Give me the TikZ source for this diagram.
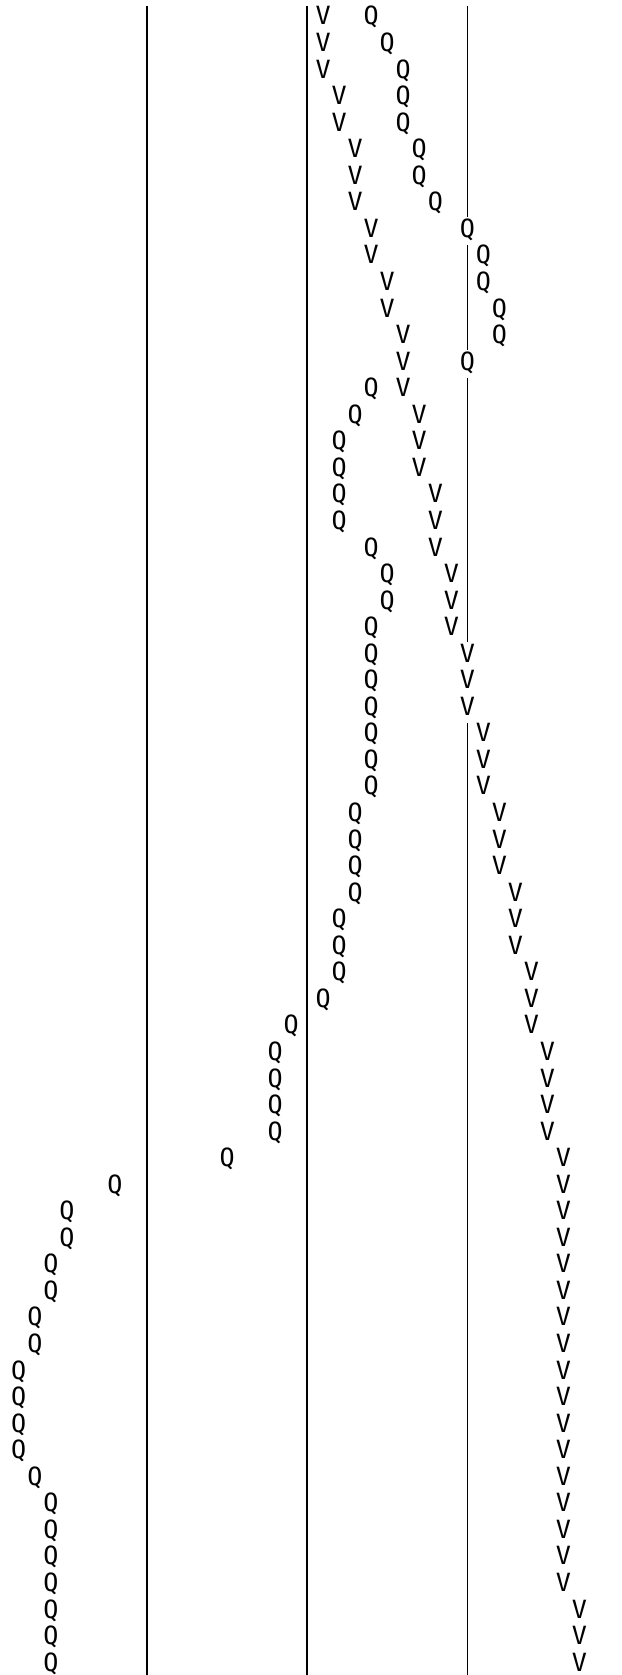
\documentclass[tikz,border=0pt]{standalone}
\usepackage{fontspec}
\newfontfamily\gridfont{DejaVu Sans Mono}
\begin{document}
\begin{tikzpicture}[x=1pt,y=-1pt,
  ch/.style={anchor=base,inner sep=0pt,outer sep=0pt,font=\gridfont\fontsize{25.1}{26.55}\selectfont,text=black},
  bar/.style={draw=black,line width=1.5pt}]
\fill[white] (0,0) rectangle (621,1675);
\useasboundingbox (0,0) rectangle (621,1675);
% grid: column c centre x = 18.8 + 16.02 c ; row r baseline y = 25 + 26.55 r
\def\cx#1{(18.8+16.02*#1)}
% vertical bars (columns 8, 18, 28)
\coordinate (lt) at ({18.8+16.02*8},5.9);
\coordinate (lb) at ({18.8+16.02*8},1675);
\coordinate (mt) at ({18.8+16.02*18},5.9);
\coordinate (mb) at ({18.8+16.02*18},1675);
\draw[bar] (lt) -- (lb);
\draw[bar] (mt) -- (mb);
\foreach \a/\b [count=\i] in {0/7,9/12,14/23,27/62}{
  \coordinate (rt\i) at ({18.8+16.02*28},{25+26.55*\a-19.1});
  \coordinate (rb\i) at ({18.8+16.02*28},{min(1675,25+26.55*\b+5.9)});
  \draw[bar] (rt\i) -- (rb\i);
}
% V series
\foreach \r/\c in {0/19,1/19,2/19,3/20,4/20,5/21,6/21,7/21,8/22,9/22,10/23,11/23,
  12/24,13/24,14/24,15/25,16/25,17/25,18/26,19/26,20/26,21/27,22/27,23/27,
  24/28,25/28,26/28,27/29,28/29,29/29,30/30,31/30,32/30,33/31,34/31,35/31,
  36/32,37/32,38/32,39/33,40/33,41/33,42/33,43/34,44/34,45/34,46/34,47/34,
  48/34,49/34,50/34,51/34,52/34,53/34,54/34,55/34,56/34,57/34,58/34,59/34,
  60/35,61/35,62/35}{
  \node[ch] (v\r) at ({18.8+16.02*\c},{25+26.55*\r}) {V};
}
% Q series
\foreach \r/\c in {0/22,1/23,2/24,3/24,4/24,5/25,6/25,7/26,8/28,9/29,10/29,
  11/30,12/30,13/28,14/22,15/21,16/20,17/20,18/20,19/20,20/22,21/23,22/23,
  23/22,24/22,25/22,26/22,27/22,28/22,29/22,30/21,31/21,32/21,33/21,34/20,
  35/20,36/20,37/19,38/17,39/16,40/16,41/16,42/16,43/13,44/6,45/3,46/3,
  47/2,48/2,49/1,50/1,51/0,52/0,53/0,54/0,55/1,56/2,57/2,58/2,59/2,60/2,
  61/2,62/2}{
  \node[ch] (q\r) at ({18.8+16.02*\c},{25+26.55*\r}) {Q};
}
\end{tikzpicture}
\end{document}
